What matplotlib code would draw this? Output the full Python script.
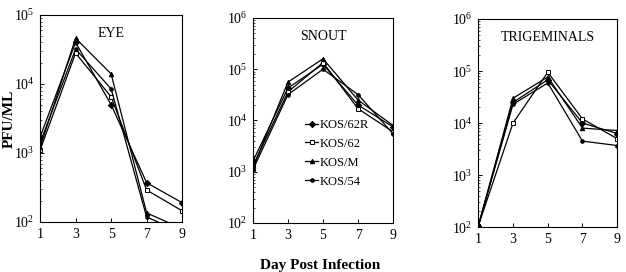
import matplotlib
matplotlib.use("Agg")
import matplotlib.pyplot as plt
from matplotlib.ticker import LogLocator, NullFormatter

plt.rcParams['font.family'] = ['Liberation Serif', 'DejaVu Serif']
plt.rcParams['mathtext.fontset'] = 'custom'
plt.rcParams['mathtext.rm'] = 'Liberation Serif'

days = [1, 3, 5, 7, 9]
strains = ['KOS/62R', 'KOS/62', 'KOS/M', 'KOS/54']
markers = ['D', 's', '^', 'o']
fills = ['black', 'white', 'black', 'black']

eye = {
    'KOS/62R': [1.7e3, 4.0e4, 5.0e3, 370, 190],
    'KOS/62': [1.1e3, 2.8e4, 6.5e3, 290, 145],
    'KOS/M': [1.2e3, 4.6e4, 1.4e4, 135, 80],
    'KOS/54': [1.4e3, 3.2e4, 8.5e3, 118, 70],
}
snout = {
    'KOS/62R': [1.6e3, 4.3e4, 1.25e5, 2.0e4, 7.5e3],
    'KOS/62': [1.3e3, 3.6e4, 1.35e5, 1.7e4, 6.0e3],
    'KOS/M': [1.2e3, 5.6e4, 1.6e5, 2.5e4, 8.0e3],
    'KOS/54': [1.1e3, 3.2e4, 1.0e5, 3.2e4, 5.5e3],
}
trig = {
    'KOS/62R': [105, 2.5e4, 6.8e4, 1.0e4, 6.3e3],
    'KOS/62': [105, 1.0e4, 9.5e4, 1.2e4, 5.0e3],
    'KOS/M': [105, 3.0e4, 7.7e4, 8.0e3, 7.2e3],
    'KOS/54': [105, 2.3e4, 5.9e4, 4.5e3, 3.7e3],
}

panels = [
    ('EYE', eye, (1e2, 1e5), [0.064, 0.184, 0.227, 0.761]),
    ('SNOUT', snout, (1e2, 1e6), [0.404, 0.180, 0.224, 0.754]),
    ('TRIGEMINALS', trig, (1e2, 1e6), [0.764, 0.165, 0.222, 0.765]),
]

fig = plt.figure(figsize=(6.26, 2.72), dpi=100)
axes = []
for title, data, ylim, pos in panels:
    ax = fig.add_axes(pos)
    for s, m, fc in zip(strains, markers, fills):
        ax.plot(days, data[s], color='black', lw=0.9, marker=m,
                markersize=3.2 if m != 'o' else 2.6, markerfacecolor=fc,
                markeredgecolor='black', markeredgewidth=0.7, label=s,
                clip_on=True)
    ax.set_yscale('log')
    ax.set_ylim(*ylim)
    ax.set_xlim(1, 9)
    ax.set_xticks(days)
    ax.yaxis.set_major_locator(LogLocator(base=10))
    ax.yaxis.set_minor_locator(LogLocator(base=10, subs=range(2, 10)))
    ax.yaxis.set_minor_formatter(NullFormatter())
    ax.tick_params(axis='both', which='major', direction='in', length=3,
                   width=0.7, labelsize=10, pad=4)
    ax.tick_params(axis='y', which='minor', direction='in', length=1.5, width=0.5)
    for sp in ax.spines.values():
        sp.set_linewidth(0.8)
    ax.text(0.5, 0.91, title, transform=ax.transAxes, ha='center',
            va='center', fontsize=10)
    axes.append(ax)

axes[0].set_ylabel('PFU/ML', fontsize=11, fontweight='bold')
axes[0].yaxis.set_label_coords(-0.17, 0.5)
axes[1].legend(loc='center left', bbox_to_anchor=(0.33, 0.34), frameon=False,
               fontsize=9, handlelength=1.0, handletextpad=0.1,
               labelspacing=0.55, borderpad=0)
fig.text(0.512, 0.025, 'Day Post Infection', ha='center', va='center',
         fontsize=11, fontweight='bold')

fig.savefig('out.png', dpi=100)
